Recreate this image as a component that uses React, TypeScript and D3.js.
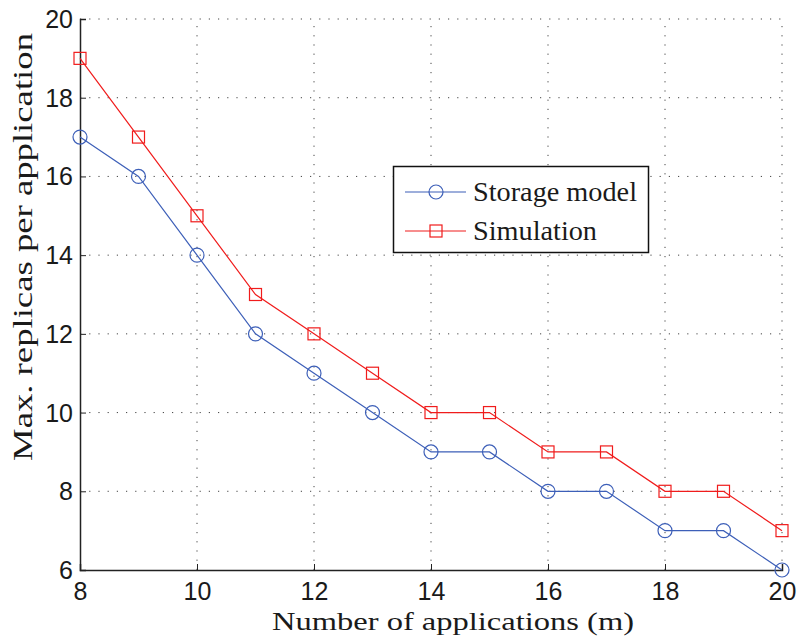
import React, { useRef, useEffect } from 'react';
import * as d3 from 'd3';

const apps = [8, 9, 10, 11, 12, 13, 14, 15, 16, 17, 18, 19, 20];
const storageModel = [17, 16, 14, 12, 11, 10, 9, 9, 8, 8, 7, 7, 6];
const simulation = [19, 17, 15, 13, 12, 11, 10, 10, 9, 9, 8, 8, 7];
const xTicks = [8, 10, 12, 14, 16, 18, 20];
const yTicks = [6, 8, 10, 12, 14, 16, 18, 20];

const BLUE = '#3d5fb8';
const RED = '#f01c1c';

const App = () => {
  const svgRef = useRef<SVGSVGElement>(null);

  useEffect(() => {
    const svg = d3.select(svgRef.current);
    svg.selectAll('*').remove();

    const width = 799;
    const height = 637;
    const margin = { top: 19, right: 17, bottom: 67, left: 80 };

    const x = d3.scaleLinear().domain([8, 20]).range([margin.left, width - margin.right]);
    const y = d3.scaleLinear().domain([6, 20]).range([height - margin.bottom, margin.top]);

    const tickFont = '"Liberation Sans", Arial, Helvetica, sans-serif';
    const serif = '"Liberation Serif", "Times New Roman", Times, serif';

    // grid
    const grid = svg.append('g')
      .attr('stroke', '#444')
      .attr('stroke-width', 1)
      .attr('stroke-dasharray', '1.2,8');
    grid.selectAll('.vg')
      .data(xTicks.slice(1))
      .enter()
      .append('line')
      .attr('x1', d => x(d)).attr('x2', d => x(d))
      .attr('y1', y(6)).attr('y2', y(20));
    grid.selectAll('.hg')
      .data(yTicks.slice(1))
      .enter()
      .append('line')
      .attr('x1', x(8)).attr('x2', x(20))
      .attr('y1', d => y(d)).attr('y2', d => y(d));

    // axes
    const xAxis = d3.axisBottom(x).tickValues(xTicks).tickSize(-6).tickPadding(12).tickFormat(d3.format('d'));
    const yAxis = d3.axisLeft(y).tickValues(yTicks).tickSize(-6).tickPadding(7).tickFormat(d3.format('d'));

    const gx = svg.append('g')
      .attr('transform', `translate(0,${y(6)})`)
      .call(xAxis);
    const gy = svg.append('g')
      .attr('transform', `translate(${x(8)},0)`)
      .call(yAxis);

    [gx, gy].forEach(g => {
      g.select('.domain').attr('stroke', '#222').attr('stroke-width', 1.5);
      g.selectAll('.tick line').attr('stroke', '#222');
      g.selectAll('text')
        .style('font-family', tickFont)
        .style('font-size', '25px')
        .style('fill', '#1a1a1a');
    });
    gx.selectAll('text').attr('dy', '0.71em');
    gy.selectAll('text').attr('dy', '0.34em');

    // lines
    const line = d3.line<number>()
      .x((_, i) => x(apps[i]))
      .y(d => y(d));

    svg.append('path')
      .datum(storageModel)
      .attr('fill', 'none')
      .attr('stroke', BLUE)
      .attr('stroke-width', 1.2)
      .attr('d', line);

    svg.append('path')
      .datum(simulation)
      .attr('fill', 'none')
      .attr('stroke', RED)
      .attr('stroke-width', 1.2)
      .attr('d', line);

    svg.selectAll('.circ')
      .data(storageModel)
      .enter()
      .append('circle')
      .attr('cx', (_, i) => x(apps[i]))
      .attr('cy', d => y(d))
      .attr('r', 7)
      .attr('fill', 'none')
      .attr('stroke', BLUE)
      .attr('stroke-width', 1.2);

    svg.selectAll('.sq')
      .data(simulation)
      .enter()
      .append('rect')
      .attr('x', (_, i) => x(apps[i]) - 6)
      .attr('y', d => y(d) - 6)
      .attr('width', 12)
      .attr('height', 12)
      .attr('fill', 'none')
      .attr('stroke', RED)
      .attr('stroke-width', 1.2);

    // axis labels
    svg.append('text')
      .attr('x', 272)
      .attr('y', 630)
      .attr('textLength', 362)
      .attr('lengthAdjust', 'spacingAndGlyphs')
      .style('font-family', serif)
      .style('font-size', '26px')
      .style('fill', '#1a1a1a')
      .text('Number of applications (m)');

    svg.append('text')
      .attr('transform', `translate(32,461) rotate(-90)`)
      .attr('textLength', 428)
      .attr('lengthAdjust', 'spacingAndGlyphs')
      .style('font-family', serif)
      .style('font-size', '27px')
      .style('fill', '#1a1a1a')
      .text('Max. replicas per application');

    // legend
    const legend = svg.append('g');
    legend.append('rect')
      .attr('x', 393.5).attr('y', 166.5)
      .attr('width', 255).attr('height', 86)
      .attr('fill', 'white')
      .attr('stroke', '#111')
      .attr('stroke-width', 1.5);

    const items = [
      { name: 'Storage model', color: BLUE, shape: 'circle', len: 164 },
      { name: 'Simulation', color: RED, shape: 'square', len: 124 },
    ];
    items.forEach((it, i) => {
      const ly = 192 + i * 39;
      legend.append('line')
        .attr('x1', 405).attr('x2', 466)
        .attr('y1', ly).attr('y2', ly)
        .attr('stroke', it.color)
        .attr('stroke-width', 1.2);
      if (it.shape === 'circle') {
        legend.append('circle')
          .attr('cx', 436).attr('cy', ly).attr('r', 7)
          .attr('fill', 'none').attr('stroke', it.color).attr('stroke-width', 1.2);
      } else {
        legend.append('rect')
          .attr('x', 430).attr('y', ly - 6).attr('width', 12).attr('height', 12)
          .attr('fill', 'none').attr('stroke', it.color).attr('stroke-width', 1.2);
      }
      legend.append('text')
        .attr('x', 473)
        .attr('y', ly)
        .attr('dy', '0.35em')
        .attr('textLength', it.len)
        .attr('lengthAdjust', 'spacingAndGlyphs')
        .style('font-family', serif)
        .style('font-size', '27px')
        .style('fill', '#1a1a1a')
        .text(it.name);
    });
  }, []);

  return (
    <svg
      ref={svgRef}
      width={799}
      height={637}
      style={{ display: 'block', position: 'absolute', left: 0, top: 0, background: 'white' }}
    />
  );
};

export default App;
